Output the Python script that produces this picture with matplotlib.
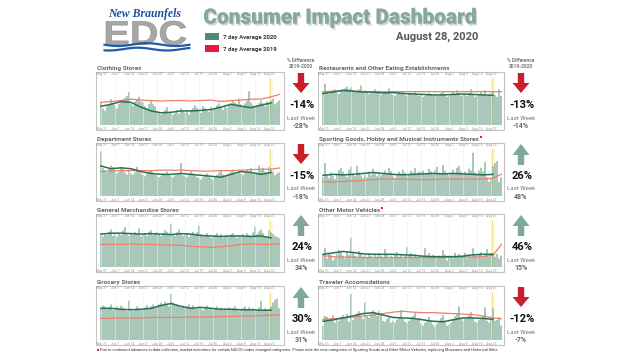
import numpy as np
import matplotlib
matplotlib.use('Agg')
import matplotlib.pyplot as plt
from matplotlib.patches import Rectangle, Polygon, PathPatch
from matplotlib.textpath import TextPath
from matplotlib.font_manager import FontProperties
from matplotlib.transforms import Affine2D
import matplotlib.patheffects as pe

plt.rcParams['font.family'] = ['Roboto', 'DejaVu Sans']

# ---- data (relative units, 100 = top of each panel) ----
days = np.arange(90)                       # May 31 .. Aug 28
tick_days = np.arange(0, 85, 7)
tick_labels = ['May 31', 'Jun 7', 'Jun 14', 'Jun 21', 'Jun 28', 'Jul 5', 'Jul 12',
               'Jul 19', 'Jul 26', 'Aug 2', 'Aug 9', 'Aug 16', 'Aug 23']
green_days = np.arange(0, 86, 5)           # 7 day average 2020 samples
red_days = np.arange(0, 91, 5)             # 7 day average 2019 samples

clothing_bars = [50,35,30,40,45,55,48, 42,35,45,50,55,58,62, 70,45,40,50,55,60,50,
                 48,40,35,45,52,45,40, 30,25,22,28,32,38,25, 28,22,26,32,24,36,30,
                 26,30,22,32,36,42,36, 30,26,40,36,30,28,38, 32,36,42,46,38,32,42,
                 36,42,46,52,48,44,56, 44,38,46,52,72,48,42, 38,42,46,52,46,40,50,
                 46,52,56,44,48,52]
clothing_2020 = [40,44,50,48,38,30,26,27,30,30,31,33,38,44,40,37,42,47]
clothing_2019 = [48,50,52,55,53,52,51,52,52,51,52,53,50,52,53,55,55,60,66]

department_bars = [95,60,55,50,58,65,62, 55,48,52,60,58,50,45, 55,48,45,50,62,55,48,
                   45,42,48,52,55,50,46, 44,40,42,48,46,52,45, 42,40,44,46,48,70,44,
                   42,40,46,52,48,44,40, 38,35,40,44,48,42,38, 35,40,45,50,55,46,42,
                   44,48,52,56,50,46,54, 48,45,50,55,52,60,48, 46,50,65,55,60,52,48,
                   62,58,52,44,48,50]
department_2020 = [64,58,60,58,52,48,46,46,48,46,44,42,40,46,52,50,46,50]
department_2019 = [52,53,54,54,54,54,55,55,55,54,53,53,54,54,55,56,57,57,60]

general_bars = [72,65,70,68,75,80,66, 70,65,72,68,78,85,70, 66,72,68,75,70,82,65,
                70,72,66,75,78,68,72, 74,70,66,72,78,75,68, 92,70,66,74,80,72,66,
                68,72,64,70,75,68,74, 88,70,65,68,72,66,62, 64,68,72,66,70,62,66,
                68,64,70,72,66,62,68, 64,70,66,72,68,64,74, 86,70,76,80,72,66,62,
                78,74,70,66,64,62]
general_2020 = [70,72,72,71,70,71,70,69,71,70,67,66,65,66,66,65,66,62]
general_2019 = [48,48,48,49,48,48,47,47,46,44,43,42,43,45,48,49,48,48,50]

grocery_bars = [66,72,70,64,68,74,62, 65,70,66,72,68,64,60, 82,66,60,64,70,66,62,
                64,68,72,66,70,74,68, 70,74,78,72,80,76,70, 96,78,72,74,70,68,72,
                66,70,74,68,72,66,64, 70,66,62,68,72,64,66, 62,66,70,64,68,62,66,
                64,68,62,66,70,64,60, 62,66,70,64,68,62,66, 60,64,68,82,62,66,60,
                64,70,78,84,86,66]
grocery_2020 = [66,66,64,63,64,66,72,76,70,66,68,66,64,64,63,63,62,62]
grocery_2019 = [45,45,46,46,46,47,47,47,47,48,48,48,49,49,50,50,51,52,52]

restaurant_bars = [72,88,70,66,68,74,76, 70,66,72,74,78,82,76, 80,74,70,72,76,84,72,
                   74,70,66,70,72,76,70, 68,64,66,70,72,78,66, 64,62,66,70,68,72,64,
                   62,66,68,64,70,66,62, 64,60,62,66,68,64,62, 66,62,64,68,72,66,60,
                   62,66,70,64,74,68,62, 64,66,62,68,76,64,60, 62,64,70,66,74,62,66,
                   68,72,64,60,76,62]
restaurant_2020 = [67,70,74,72,70,70,68,69,67,66,65,64,64,65,66,65,64,63]
restaurant_2019 = [71,72,72,72,71,71,71,71,71,71,71,71,71,71,71,71,71,71,71]

sporting_bars = [40,70,45,38,50,42,36, 48,55,60,52,44,40,56, 62,48,42,64,50,44,38,
                 46,40,52,44,58,48,42, 50,44,48,54,46,60,52, 44,38,46,52,48,56,50,
                 42,46,54,50,60,48,52, 50,54,46,48,58,52,46, 56,62,50,48,66,54,48,
                 44,50,56,48,60,64,52, 46,52,48,58,54,92,50, 46,54,60,52,72,40,30,
                 36,64,70,74,30,40]
sporting_2020 = [44,46,45,46,48,50,48,46,45,46,47,48,47,48,47,46,45,46]
sporting_2019 = [30,30,31,32,33,35,36,36,36,35,35,35,36,36,36,36,36,38,48]

motor_bars = [22,40,18,30,26,14,20, 28,36,30,24,18,32,26, 62,30,24,20,34,28,22,
              26,20,30,24,18,28,22, 30,24,20,38,26,18,24, 20,28,32,22,26,18,24,
              42,26,30,22,28,20,24, 18,22,40,24,30,20,26, 22,18,24,20,36,26,14,
              20,24,18,30,22,28,20, 24,30,18,26,22,40,26, 24,28,32,20,26,38,22,
              30,26,22,28,18,24]
motor_2020 = [27,30,33,31,28,27,27,27,26,25,23,22,22,22,23,26,27,27]
motor_2019 = [24,22,21,21,20,20,20,20,20,20,20,20,20,21,21,21,22,25,52]

traveler_bars = [30,50,48,40,46,52,36, 44,40,48,52,46,54,38, 96,42,48,56,60,50,44,
                 78,52,46,54,62,58,50, 60,52,40,38,44,48,36, 40,36,42,48,62,44,38,
                 36,40,44,50,56,42,46, 34,30,36,40,48,38,32, 28,34,40,46,52,38,30,
                 32,36,44,50,56,70,46, 40,44,48,52,58,46,38, 36,42,46,50,68,40,36,
                 44,66,40,42,48,30]
traveler_2020 = [39,42,46,50,55,57,52,47,46,45,42,39,38,42,46,46,45,43]
traveler_2019 = [43,44,46,48,50,52,55,58,60,58,57,57,56,55,54,53,50,46,44]

titles = ['Clothing Stores', 'Department Stores', 'General Merchandise Stores', 'Grocery Stores',
          'Restaurants and Other Eating Establishments',
          'Sporting Goods, Hobby and Musical Instruments Stores',
          'Other Motor Vehicles', 'Traveler Accomodations']
flagged = [False, False, False, False, False, True, True, False]
pct_change = ['-14%', '-15%', '24%', '30%', '-13%', '26%', '46%', '-12%']
last_week = ['-28%', '-18%', '34%', '31%', '-14%', '48%', '15%', '-7%']

bars_all = [clothing_bars, department_bars, general_bars, grocery_bars,
            restaurant_bars, sporting_bars, motor_bars, traveler_bars]
avg2020_all = [clothing_2020, department_2020, general_2020, grocery_2020,
               restaurant_2020, sporting_2020, motor_2020, traveler_2020]
avg2019_all = [clothing_2019, department_2019, general_2019, grocery_2019,
               restaurant_2019, sporting_2019, motor_2019, traveler_2019]

W, H = 640, 360
fig = plt.figure(figsize=(6.4, 3.6), dpi=100)
bg = fig.add_axes([0, 0, 1, 1])
bg.set_xlim(0, W)
bg.set_ylim(H, 0)
bg.axis('off')

BAR_C = '#8fb7a3'
GREEN_C = '#2a7152'
RED_C = '#ee7f6a'
GRAY_T = '#666666'

cols = [(96, 284), (318, 504)]
rows = [(72, 130), (143, 201), (214, 272), (286, 345)]

for i in range(8):
    x0, x1 = cols[i // 4]
    yt, yb = rows[i % 4]
    # panel frame
    bg.add_patch(Rectangle((x0, yt), x1 - x0, yb - yt, fill=False,
                           edgecolor='#c4c4c4', lw=0.8))
    # 182 px for 91 days -> exactly 2 px per day (no moire)
    ax = fig.add_axes([(x0 + 2) / W, 1 - (yb - 5) / H,
                       182 / W, (yb - yt - 11) / H])
    ax.axvspan(84.6, 86.2, color='#fcf8e8', lw=0, zorder=0)
    ax.axvline(84.6, color='#f2df80', lw=0.6, zorder=0.5)
    ax.bar(days, bars_all[i], width=0.75, color=BAR_C, lw=0, zorder=1, snap=False)
    ax.plot(red_days, avg2019_all[i], color=RED_C, lw=0.9, zorder=2)
    ax.plot(green_days, avg2020_all[i], color=GREEN_C, lw=1.1, zorder=3)
    ax.set_xlim(-1.5, 89.5)
    ax.set_ylim(0, 100)
    ax.set_yticks([])
    ax.set_xticks(tick_days)
    ax.set_xticklabels(tick_labels)
    ax.grid(axis='x', color='#ececec', lw=0.4, zorder=0)
    ax.tick_params(axis='x', length=0, labelsize=2.4, labelcolor='#999999', pad=1.2,
                   top=True, labeltop=True)
    for s in ax.spines.values():
        s.set_visible(False)
    ax.patch.set_alpha(0)
    # panel title
    t = bg.text(x0 + 1, yt - 3.5, titles[i], fontsize=4.6, fontweight='bold',
                color=GRAY_T, va='center', ha='left')
    if flagged[i]:
        fig.canvas.draw()
        bb = t.get_window_extent()
        bg.add_patch(Rectangle((bb.x1 + 1, yt - 7.5), 2.2, 2.2, color='#e8193c', lw=0))

    # indicator column
    cx = 301 if i < 4 else 521
    up = not pct_change[i].startswith('-')
    if i % 4 == 0:
        bg.text(cx, yt - 12, '% Difference', fontsize=3.5, fontweight='bold',
                color='#777777', ha='center', va='center')
        bg.text(cx, yt - 5.5, '2019-2020', fontsize=3.5, fontweight='bold',
                color='#777777', ha='center', va='center')
    a_top = yt + 1
    sw, hw = 3.2, 8.5
    if up:
        tip, base, tail = a_top, a_top + 11, a_top + 21
        pts = [(cx, tip), (cx + hw, base), (cx + sw, base), (cx + sw, tail),
               (cx - sw, tail), (cx - sw, base), (cx - hw, base)]
        col = '#7fa898'
    else:
        tail, base, tip = a_top, a_top + 10, a_top + 20
        pts = [(cx - sw, tail), (cx + sw, tail), (cx + sw, base), (cx + hw, base),
               (cx, tip), (cx - hw, base), (cx - sw, base)]
        col = '#c8202a'
    bg.add_patch(Polygon(pts, closed=True, color=col, lw=0))
    bg.text(cx + 1, a_top + 32, pct_change[i], fontsize=8, fontweight='bold',
            color='#111111', ha='center', va='center')
    bg.text(cx, a_top + 45, 'Last Week', fontsize=4.4, color='#777777',
            ha='center', va='center')
    bg.text(cx, a_top + 53, last_week[i], fontsize=5, fontweight='bold',
            color='#666666', ha='center', va='center')

# ---- header ----
bg.text(340, 18, 'Consumer Impact Dashboard', fontsize=15, fontweight='heavy',
        color='#86aa98', ha='center', va='center',
        path_effects=[pe.withSimplePatchShadow(offset=(1, -1.5), shadow_rgbFace='#888888', alpha=0.35),
                      pe.Normal()])
bg.text(478, 37, 'August 28, 2020', fontsize=8, fontweight='bold', color='#555555',
        ha='right', va='center')
bg.add_patch(Rectangle((205, 33), 14, 7, color='#4f8a72', lw=0))
bg.text(223, 37, '7 day Average 2020', fontsize=4.3, fontweight='bold', color='#333333',
        va='center')
bg.add_patch(Rectangle((205, 45), 14, 7, color='#e8193c', lw=0))
bg.text(223, 49, '7 day Average 2019', fontsize=4.3, fontweight='bold', color='#333333',
        va='center')

# logo
bg.text(145, 14, 'New Braunfels', fontsize=8.5, fontstyle='italic', fontweight='bold',
        family='Liberation Serif', color='#1f4fa0', ha='center', va='center')
edc = TextPath((0, 0), 'EDC', size=1, prop=FontProperties(family='Liberation Sans', weight='bold'))
ext = edc.get_extents()
lx0, lx1, ly0, ly1 = 106, 186, 21, 45
tr = (Affine2D().translate(-ext.x0, -ext.y0)
      .scale((lx1 - lx0) / ext.width, -(ly1 - ly0) / ext.height)
      .translate(lx0, ly1))
bg.add_patch(PathPatch(tr.transform_path(edc), facecolor='#a6a6a6', edgecolor='#8c8c8c', lw=0.4))
wx = np.linspace(103, 190, 120)
for k, off in enumerate([43, 47.5]):
    wy = off + 1.4 * np.sin((wx - 103) / 87 * 2 * np.pi * 1.5 + k)
    bg.fill_between(wx, wy, wy + 2.2, color='#1f5aa8', lw=0)

# footnote
bg.add_patch(Rectangle((96.5, 348.5), 2.5, 2.5, color='#e8193c', lw=0))
bg.text(100, 350, 'Due to continued advances in data collection, market indicators for certain NAICS '
        'codes changed categories. Please note the new categories of Sporting Goods and Other '
        'Motor Vehicles, replacing Museums and Historical Sites',
        fontsize=2.9, color='#333333', va='center')

fig.savefig('out.png', dpi=100, facecolor='white')
